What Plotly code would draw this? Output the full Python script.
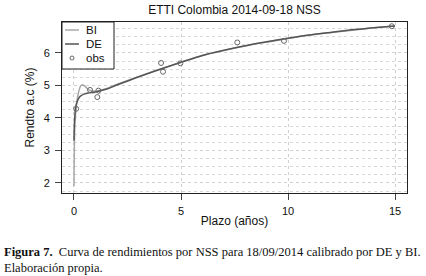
import plotly.graph_objects as go

title = "ETTI Colombia 2014-09-18 NSS"
x_label = "Plazo (años)"
y_label = "Rendto a.c (%)"
legend_names = ["BI", "DE", "obs"]

# BI fitted curve
bi_x = [0.0, 0.02, 0.05, 0.1, 0.2, 0.3, 0.4, 0.5, 0.7, 1.0, 1.5, 2, 3, 4, 5, 6, 7, 8, 9, 10, 11, 12, 13, 14, 15]
bi_y = [1.9, 3.2, 3.9, 4.3, 4.75, 4.97, 5.02, 4.98, 4.86, 4.82, 4.9, 5.03, 5.27, 5.5, 5.71, 5.92, 6.07, 6.21, 6.33, 6.44, 6.55, 6.63, 6.70, 6.77, 6.83]

# DE fitted curve
de_x = [0.0, 0.02, 0.05, 0.1, 0.2, 0.3, 0.5, 0.7, 1.0, 1.5, 2, 3, 4, 5, 6, 7, 8, 9, 10, 11, 12, 13, 14, 15]
de_y = [3.3, 3.8, 4.15, 4.4, 4.58, 4.67, 4.74, 4.77, 4.8, 4.88, 5.01, 5.26, 5.49, 5.71, 5.92, 6.08, 6.22, 6.34, 6.45, 6.55, 6.63, 6.71, 6.77, 6.83]

# observations
obs_x = [0.1, 0.75, 1.14, 1.09, 4.07, 4.16, 4.97, 7.63, 9.81, 14.85]
obs_y = [4.28, 4.86, 4.84, 4.64, 5.69, 5.42, 5.68, 6.32, 6.37, 6.82]

x_ticks = [0, 5, 10, 15]
y_ticks = [2, 3, 4, 5, 6]

bi_color = "#a8a8a8"
de_color = "#555555"
obs_color = "#666666"

fig = go.Figure()
fig.add_trace(go.Scatter(x=bi_x, y=bi_y, mode="lines", name=legend_names[0],
                         line=dict(color=bi_color, width=1.5, shape="spline")))
fig.add_trace(go.Scatter(x=de_x, y=de_y, mode="lines", name=legend_names[1],
                         line=dict(color=de_color, width=1.5, shape="spline")))
fig.add_trace(go.Scatter(x=obs_x, y=obs_y, mode="markers", name=legend_names[2],
                         marker=dict(symbol="circle-open", size=5, color=obs_color,
                                     line=dict(width=1))))

font_sans = "Liberation Sans, Arial, sans-serif"
fig.update_layout(
    width=426, height=276,
    margin=dict(l=62, r=19, t=22, b=83, autoexpand=False),
    paper_bgcolor="white", plot_bgcolor="white",
    font=dict(family=font_sans, size=11, color="#111"),
    title=dict(text=title, xref="paper", x=0.5, xanchor="center",
               yref="container", y=0.98, yanchor="top", automargin=False,
               font=dict(size=12, family=font_sans)),
    showlegend=False,
    xaxis=dict(range=[-0.56, 15.56], tickvals=x_ticks, ticks="outside", ticklen=6,
               showline=True, linecolor="#222", mirror=True, linewidth=1,
               showgrid=True, gridcolor="#d0d0d0", griddash="dot", zeroline=False,
               ticklabelstandoff=2, automargin=False,
               title=dict(text=x_label, standoff=0, font=dict(size=12))),
    yaxis=dict(range=[1.69, 6.95], tickvals=y_ticks, ticks="outside", ticklen=6,
               showline=True, linecolor="#222", mirror=True, linewidth=1,
               showgrid=True, gridcolor="#d0d0d0", griddash="dot", zeroline=False,
               ticklabelstandoff=3, automargin=False,
               minor=dict(dtick=0.25, showgrid=True, gridcolor="#d8d8d8", griddash="dot"),
               title=dict(text=y_label, standoff=6, font=dict(size=12))),
)

# compact legend box (top-left, inside plot)
pw, ph = 345.0, 171.0
def px_x(p):
    return p / pw
def px_y(p):
    return 1 - p / ph

fig.add_shape(type="rect", xref="paper", yref="paper", layer="above",
              x0=0, x1=px_x(52), y0=px_y(47), y1=1,
              line=dict(color="#222", width=1), fillcolor="white")
entry_rows = [8, 22, 36]
for name, row, col, kind in zip(legend_names, entry_rows,
                                [bi_color, de_color, obs_color],
                                ["line", "line", "marker"]):
    if kind == "line":
        fig.add_shape(type="line", xref="paper", yref="paper", layer="above",
                      x0=px_x(3), x1=px_x(17), y0=px_y(row), y1=px_y(row),
                      line=dict(color=col, width=1.5))
    else:
        fig.add_shape(type="circle", xref="paper", yref="paper", layer="above",
                      x0=px_x(8), x1=px_x(12), y0=px_y(row + 2), y1=px_y(row - 2),
                      line=dict(color=col, width=1))
    fig.add_annotation(xref="paper", yref="paper", x=px_x(22), y=px_y(row),
                       xanchor="left", yanchor="middle", showarrow=False,
                       text=name, font=dict(size=11.5, family=font_sans, color="#111"))

fig.add_annotation(xref="paper", yref="paper", x=-60/345, y=-0.29, xanchor="left", yanchor="top",
                   align="left", showarrow=False,
                   text="<b>Figura 7.</b>  Curva de rendimientos por NSS para 18/09/2014 calibrado por DE y BI.<br>Elaboración propia.",
                   font=dict(family="Liberation Serif, serif", size=12.5, color="#111"))

fig.write_html("out.html", config={"displayModeBar": False},
               post_script="document.body.style.margin='0px';")
